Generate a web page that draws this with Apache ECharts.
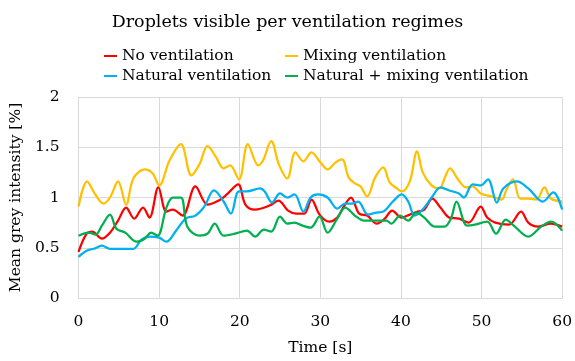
<!DOCTYPE html>
<html>
<head>
<meta charset="utf-8">
<script src="https://cdn.jsdelivr.net/npm/echarts@6/dist/echarts.min.js"></script>
<style>
  html, body { margin: 0; padding: 0; background: #fff; }
  #chart { width: 575px; height: 361px; }
</style>
</head>
<body>
<div id="chart"></div>
<script>
// [time s, mean grey intensity %]
const noVentilation = [
  [0, 0.46], [1, 0.64], [1.7, 0.66], [2.9, 0.59], [3.9, 0.65], [4.9, 0.77], [5.9, 0.9], [6.9, 0.79],
  [8, 0.9], [8.8, 0.8], [9.9, 1.1], [10.9, 0.86], [11.7, 0.88], [12.9, 0.82], [14.5, 1.11], [16, 0.93],
  [17.4, 0.97], [18.4, 1.03], [19.8, 1.13], [20.7, 0.93], [21.9, 0.88], [23.7, 0.92], [24.8, 0.97],
  [26, 0.87], [27, 0.84], [28, 0.84], [28.9, 0.98], [29.9, 0.83], [31.1, 0.76], [32.1, 0.8], [32.9, 0.91],
  [33.8, 1.0], [34.8, 0.84], [35.8, 0.82], [37, 0.74], [38, 0.79], [38.9, 0.87], [40.1, 0.8], [41.1, 0.83],
  [42.1, 0.86], [42.9, 0.88], [43.9, 0.99], [44.9, 0.9], [46, 0.8], [47.2, 0.79], [48.4, 0.75], [49.9, 0.91],
  [50.7, 0.8], [51.7, 0.75], [53.4, 0.73], [54.9, 0.86], [55.8, 0.75], [57, 0.71], [58.6, 0.74], [60, 0.71]
];
const mixingVentilation = [
  [0, 0.91], [1.06, 1.16], [2, 1.04], [3.1, 0.94], [3.9, 1.0], [4.9, 1.16], [5.9, 0.93], [6.8, 1.19],
  [8.2, 1.28], [9.2, 1.24], [10, 1.12], [11.3, 1.37], [12.7, 1.53], [14, 1.22], [15, 1.33], [16, 1.51],
  [17, 1.41], [18, 1.29], [18.8, 1.32], [19.9, 1.18], [21, 1.53], [22.3, 1.32], [22.9, 1.37], [23.9, 1.56],
  [24.9, 1.32], [25.9, 1.19], [26.9, 1.45], [27.9, 1.36], [28.9, 1.45], [30, 1.35], [30.9, 1.28],
  [31.9, 1.35], [32.7, 1.38], [33.5, 1.2], [34.3, 1.14], [35, 1.11], [35.8, 1.01], [36.8, 1.2], [37.8, 1.3],
  [38.6, 1.15], [39.5, 1.09], [40.1, 1.06], [41.1, 1.16], [42, 1.46], [42.7, 1.25], [43.8, 1.12],
  [44.8, 1.09], [45.4, 1.19], [46.1, 1.29], [47, 1.19], [48.1, 1.1], [48.9, 1.11], [49.9, 1.04],
  [51.3, 1.01], [52.5, 0.98], [53.1, 1.08], [53.9, 1.18], [54.8, 0.99], [55.8, 0.99], [56.8, 0.98],
  [57.8, 1.1], [58.6, 0.99], [60, 0.96]
];
const naturalVentilation = [
  [0, 0.41], [1, 0.47], [1.9, 0.49], [2.9, 0.52], [3.9, 0.49], [5.5, 0.49], [6.8, 0.49], [7.8, 0.58],
  [8.8, 0.61], [10, 0.6], [10.9, 0.56], [12.1, 0.67], [13.3, 0.79], [14.5, 0.82], [15.6, 0.91], [16.8, 1.07],
  [18, 0.96], [18.9, 0.84], [19.9, 1.06], [20.9, 1.06], [22.5, 1.09], [23.1, 1.06], [24, 0.95], [25, 1.04],
  [25.9, 1.0], [26.8, 1.03], [27.9, 0.86], [28.8, 1.0], [29.7, 1.03], [30.9, 1.0], [32.1, 0.89], [33.1, 0.94],
  [33.9, 0.94], [34.7, 0.96], [35.9, 0.83], [36.9, 0.85], [37.8, 0.86], [39, 0.96], [40.1, 1.03],
  [40.9, 0.96], [41.7, 0.82], [42.7, 0.88], [43.9, 1.01], [44.9, 1.1], [46, 1.07], [47.2, 1.04], [47.8, 1.0],
  [48.9, 1.13], [49.9, 1.12], [50.8, 1.18], [51.9, 0.95], [52.7, 1.09], [54.4, 1.16], [55.8, 1.09],
  [57.6, 0.96], [58.9, 1.05], [60, 0.88]
];
const naturalMixing = [
  [0, 0.62], [1.3, 0.65], [2.1, 0.63], [2.9, 0.72], [3.9, 0.83], [4.7, 0.69], [5.8, 0.65], [7.2, 0.56],
  [8.2, 0.59], [9, 0.65], [9.8, 0.62], [10.9, 0.9], [11.7, 1.0], [12.7, 1.0], [13.5, 0.71], [15, 0.62],
  [16, 0.64], [16.9, 0.74], [18, 0.62], [19.4, 0.64], [20.9, 0.67], [21.9, 0.61], [23, 0.68], [23.9, 0.66],
  [25, 0.81], [25.9, 0.74], [26.8, 0.75], [27.8, 0.72], [28.8, 0.7], [29.9, 0.81], [30.9, 0.65], [32.1, 0.79],
  [33.1, 0.9], [34.3, 0.82], [35.4, 0.77], [37, 0.77], [38.2, 0.77], [38.8, 0.74], [39.9, 0.82], [40.9, 0.77],
  [41.9, 0.85], [42.9, 0.8], [44.2, 0.71], [45.4, 0.71], [46.2, 0.79], [46.9, 0.96], [48.2, 0.72],
  [49.2, 0.73], [50.7, 0.76], [51.8, 0.64], [53, 0.78], [54, 0.72], [55.8, 0.61], [57.4, 0.71], [58.6, 0.76],
  [60, 0.67]
];
const seriesNames = ["No ventilation", "Mixing ventilation", "Natural ventilation", "Natural + mixing ventilation"];

const font = '"DejaVu Serif", "Liberation Serif", serif';
const chart = echarts.init(document.getElementById("chart"), null, { renderer: "canvas" });

const line = (name, data, color) => ({
  name,
  type: "line",
  data,
  smooth: 0.35,
  symbol: "none",
  lineStyle: { color, width: 2.25 },
  itemStyle: { color },
});

// legend text style, shared by both columns
const legendText = { fontFamily: font, fontSize: 15.5, color: "#000" };

chart.setOption({
  animation: false,
  backgroundColor: "#fff",
  textStyle: { fontFamily: font, color: "#000" },
  title: {
    text: "Droplets visible per ventilation regimes",
    left: "center",
    top: 8,
    textStyle: { fontFamily: font, fontSize: 17.5, fontWeight: "normal", color: "#000" },
  },
  legend: [
    {
      data: [seriesNames[0], seriesNames[2]],
      orient: "vertical",
      left: 99,
      top: 43,
      itemGap: 4,
      itemWidth: 13,
      itemHeight: 2,
      icon: "rect",
      textStyle: legendText,
    },
    {
      data: [seriesNames[1], seriesNames[3]],
      orient: "vertical",
      left: 280,
      top: 43,
      itemGap: 4,
      itemWidth: 13,
      itemHeight: 2,
      icon: "rect",
      textStyle: legendText,
    },
  ],
  grid: { left: 75, right: 11, top: 97, bottom: 58 },
  xAxis: {
    type: "value",
    min: 0,
    max: 60,
    interval: 10,
    name: "Time [s]",
    nameLocation: "middle",
    nameGap: 42,
    nameTextStyle: { fontFamily: font, fontSize: 15.5, color: "#000" },
    axisLine: { show: true, lineStyle: { color: "#d9d9d9" } },
    axisTick: { show: false },
    axisLabel: { fontFamily: font, fontSize: 15.5, color: "#000", margin: 16 },
    splitLine: { show: true, lineStyle: { color: "#d9d9d9" } },
  },
  yAxis: {
    type: "value",
    min: 0,
    max: 2,
    interval: 0.5,
    name: "Mean grey intensity [%]",
    nameLocation: "middle",
    nameGap: 46,
    nameTextStyle: { fontFamily: font, fontSize: 15.5, color: "#000" },
    axisLine: { show: true, lineStyle: { color: "#d9d9d9" } },
    axisTick: { show: false },
    axisLabel: { fontFamily: font, fontSize: 15.5, color: "#000", margin: 19 },
    splitLine: { show: true, lineStyle: { color: "#d9d9d9" } },
  },
  series: [
    line(seriesNames[0], noVentilation, "#ff0000"),
    line(seriesNames[1], mixingVentilation, "#ffc000"),
    line(seriesNames[2], naturalVentilation, "#00b0f0"),
    line(seriesNames[3], naturalMixing, "#00b050"),
  ],
});
</script>
</body>
</html>
